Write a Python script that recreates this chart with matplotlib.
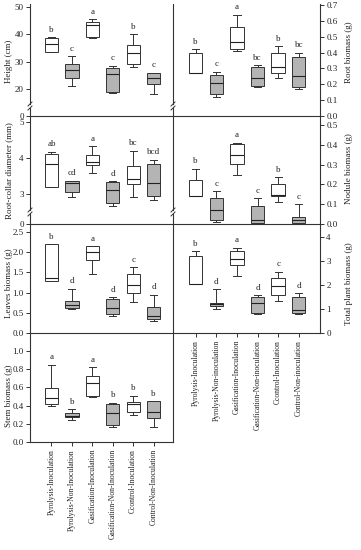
import matplotlib.pyplot as plt
from matplotlib.lines import Line2D

plt.rcParams['font.family'] = ['Liberation Serif', 'DejaVu Serif']

groups_left = ["Pyrolysis-Inoculation", "Pyrolysis-Non-Inoculation", "Gasification-Inoculation",
               "Gasification-Non-Inoculation", "Ccontrol-Inoculation", "Control-Non-Inoculation"]
groups_right = ["Pyrolysis-Inoculation", "Pyrolysis-Non-inoculation", "Gasification-Inoculation",
                "Gasification-Non-inoculation", "Ccontrol-Inoculation", "Control-Non-inoculation"]
fills = ["white", "#b4b4b4", "white", "#b4b4b4", "white", "#b4b4b4"]
pos = [1, 2, 3, 4, 5, 6]

# box stats per panel: whisker low, q1, median, q3, whisker high
height_lo = [33.5, 21.0, 38.5, 18.5, 28.0, 18.0]
height_q1 = [33.5, 24.0, 39.0, 19.0, 29.0, 22.0]
height_med = [36.5, 27.0, 43.5, 25.5, 33.0, 24.0]
height_q3 = [38.5, 29.0, 44.5, 27.5, 36.0, 26.0]
height_hi = [39.0, 32.0, 45.5, 28.5, 40.0, 26.0]
height_let = ["b", "c", "a", "c", "b", "c"]

collar_lo = [3.20, 2.92, 3.58, 2.67, 2.93, 2.82]
collar_q1 = [3.20, 3.05, 3.80, 2.75, 3.28, 2.95]
collar_med = [3.83, 3.30, 3.90, 3.10, 3.42, 3.30]
collar_q3 = [4.10, 3.35, 4.08, 3.33, 3.77, 3.83]
collar_hi = [4.18, 3.37, 4.33, 3.35, 4.20, 3.95]
collar_let = ["ab", "cd", "a", "d", "bc", "bcd"]

leaves_lo = [1.30, 0.60, 1.47, 0.43, 0.78, 0.30]
leaves_q1 = [1.30, 0.63, 1.80, 0.48, 1.00, 0.35]
leaves_med = [1.37, 0.70, 2.00, 0.62, 1.20, 0.42]
leaves_q3 = [2.20, 0.80, 2.15, 0.83, 1.45, 0.65]
leaves_hi = [2.20, 1.10, 2.15, 0.88, 1.63, 0.95]
leaves_let = ["b", "d", "a", "d", "c", "d"]

stem_lo = [0.40, 0.245, 0.50, 0.16, 0.30, 0.17]
stem_q1 = [0.42, 0.27, 0.51, 0.19, 0.33, 0.26]
stem_med = [0.48, 0.29, 0.65, 0.32, 0.42, 0.33]
stem_q3 = [0.59, 0.32, 0.72, 0.42, 0.44, 0.45]
stem_hi = [0.85, 0.36, 0.82, 0.43, 0.51, 0.45]
stem_let = ["a", "b", "a", "b", "b", "b"]

root_lo = [0.27, 0.12, 0.41, 0.18, 0.24, 0.17]
root_q1 = [0.27, 0.14, 0.42, 0.19, 0.27, 0.18]
root_med = [0.27, 0.21, 0.47, 0.24, 0.31, 0.25]
root_q3 = [0.40, 0.26, 0.56, 0.31, 0.40, 0.37]
root_hi = [0.42, 0.28, 0.64, 0.32, 0.44, 0.40]
root_let = ["b", "c", "a", "bc", "b", "bc"]

nodule_lo = [0.14, 0.01, 0.245, 0.0, 0.11, 0.0]
nodule_q1 = [0.14, 0.02, 0.305, 0.005, 0.14, 0.005]
nodule_med = [0.14, 0.07, 0.35, 0.02, 0.145, 0.02]
nodule_q3 = [0.22, 0.13, 0.405, 0.09, 0.20, 0.035]
nodule_hi = [0.28, 0.165, 0.41, 0.13, 0.235, 0.10]
nodule_let = ["b", "c", "a", "c", "b", "c"]

total_lo = [2.05, 1.00, 2.38, 0.78, 1.32, 0.78]
total_q1 = [2.05, 1.12, 2.85, 0.85, 1.60, 0.85]
total_med = [2.05, 1.20, 3.10, 1.25, 1.95, 0.97]
total_q3 = [3.20, 1.27, 3.40, 1.50, 2.28, 1.50]
total_hi = [3.40, 1.82, 3.55, 1.57, 2.55, 1.65]
total_let = ["b", "d", "a", "d", "c", "d"]

W, H = 361, 550
fig = plt.figure(figsize=(3.61, 5.5), dpi=100)
line_c = '#333333'


def px_axes(x0, y0, x1, y1):
    return fig.add_axes([x0 / W, 1 - y1 / H, (x1 - x0) / W, (y1 - y0) / H])


def style(ax, side, bottom=False, top=False, xlim=(-0.05, 6.95)):
    for s in ax.spines.values():
        s.set_linewidth(0.8)
        s.set_color(line_c)
    ax.spines['top'].set_visible(top)
    ax.spines['bottom'].set_visible(bottom)
    if side == 'right':
        ax.spines['left'].set_visible(False)
        ax.yaxis.tick_right()
    ax.tick_params(axis='y', direction='out', length=3, width=0.7, labelsize=6.5, pad=1.5, colors=line_c,
                   labelcolor='#222222')
    ax.set_xticks([])
    ax.set_xlim(*xlim)
    ax.set_facecolor('none')


def draw_boxes(ax, lo, q1, med, q3, hi, letters):
    stats = [dict(whislo=a, q1=b, med=c, q3=d, whishi=e) for a, b, c, d, e in zip(lo, q1, med, q3, hi)]
    art = ax.bxp(stats, positions=pos, widths=0.65, capwidths=0.35, showfliers=False, patch_artist=True,
                 boxprops=dict(linewidth=0.7, edgecolor=line_c),
                 medianprops=dict(color='#222222', linewidth=0.8),
                 whiskerprops=dict(color=line_c, linewidth=0.7),
                 capprops=dict(color=line_c, linewidth=0.7), manage_ticks=False)
    for patch, c in zip(art['boxes'], fills):
        patch.set_facecolor(c)
    for x, h, t in zip(pos, hi, letters):
        ax.annotate(t, (x, h), xytext=(0, 2.5), textcoords='offset points', ha='center', va='bottom',
                    fontsize=6.5, color='#222222')


def break_marks(x, y_a, y_b):
    for y in (y_a, y_b):
        fig.add_artist(Line2D([(x - 2) / W, (x + 2) / W], [1 - (y + 2) / H, 1 - (y - 2) / H],
                              color=line_c, lw=0.7))


LX0, LX1, RX0, RX1 = 30, 173, 173, 320

# Height (broken)
ax = px_axes(LX0, 4, LX1, 104)
style(ax, 'left')
draw_boxes(ax, height_lo, height_q1, height_med, height_q3, height_hi, height_let)
ax.set_ylim(14.5, 51.1)
ax.set_yticks([20, 30, 40, 50])
ax = px_axes(LX0, 108, LX1, 116)
style(ax, 'left', bottom=True)
ax.set_ylim(0, 2.9)
ax.set_yticks([0])
break_marks(LX0, 104, 108)
break_marks(LX1, 104, 108)

# Root-collar diameter (broken)
ax = px_axes(LX0, 116, LX1, 210)
style(ax, 'left')
draw_boxes(ax, collar_lo, collar_q1, collar_med, collar_q3, collar_hi, collar_let)
ax.set_ylim(2.556, 5.167)
ax.set_yticks([3, 4, 5])
ax = px_axes(LX0, 214, LX1, 224)
style(ax, 'left', bottom=True)
ax.set_ylim(0, 0.28)
ax.set_yticks([0])
break_marks(LX0, 210, 214)
break_marks(LX1, 210, 214)

# Leaves biomass
ax = px_axes(LX0, 224, LX1, 333)
style(ax, 'left', bottom=True)
draw_boxes(ax, leaves_lo, leaves_q1, leaves_med, leaves_q3, leaves_hi, leaves_let)
ax.set_ylim(0, 2.70)
ax.set_yticks([0, 0.5, 1.0, 1.5, 2.0, 2.5])
ax.set_yticklabels(['0.0', '0.5', '1.0', '1.5', '2.0', '2.5'])

# Stem biomass
ax = px_axes(LX0, 333, LX1, 442)
style(ax, 'left', bottom=True)
draw_boxes(ax, stem_lo, stem_q1, stem_med, stem_q3, stem_hi, stem_let)
ax.set_ylim(0, 1.198)
ax.set_yticks([0, 0.2, 0.4, 0.6, 0.8, 1.0])
ax.set_yticklabels(['0.0', '0.2', '0.4', '0.6', '0.8', '1.0'])
ax.set_xticks(pos)
ax.set_xticklabels(groups_left, rotation=90, fontsize=5.5, color='#222222')
ax.tick_params(axis='x', direction='out', length=3, width=0.7, pad=2, colors=line_c, labelcolor='#222222')

# Root biomass
ax = px_axes(RX0, 4, RX1, 116)
style(ax, 'right', bottom=True, xlim=(-0.1, 7.03))
draw_boxes(ax, root_lo, root_q1, root_med, root_q3, root_hi, root_let)
ax.set_ylim(0, 0.707)
ax.set_yticks([0, 0.1, 0.2, 0.3, 0.4, 0.5, 0.6, 0.7])
ax.set_yticklabels(['0.0', '0.1', '0.2', '0.3', '0.4', '0.5', '0.6', '0.7'])

# Nodule biomass
ax = px_axes(RX0, 116, RX1, 224)
style(ax, 'right', bottom=True, xlim=(-0.1, 7.03))
draw_boxes(ax, nodule_lo, nodule_q1, nodule_med, nodule_q3, nodule_hi, nodule_let)
ax.set_ylim(0, 0.545)
ax.set_yticks([0, 0.1, 0.2, 0.3, 0.4, 0.5])
ax.set_yticklabels(['0.0', '0.1', '0.2', '0.3', '0.4', '0.5'])

# Total plant biomass
ax = px_axes(RX0, 224, RX1, 333)
style(ax, 'right', bottom=True, xlim=(-0.1, 7.03))
draw_boxes(ax, total_lo, total_q1, total_med, total_q3, total_hi, total_let)
ax.set_ylim(0, 4.54)
ax.set_yticks([0, 1, 2, 3, 4])
ax.set_xticks(pos)
ax.set_xticklabels(groups_right, rotation=90, fontsize=5.5, color='#222222')
ax.tick_params(axis='x', direction='out', length=3, width=0.7, pad=2, colors=line_c, labelcolor='#222222')

# axis titles
ylabels_left = [("Height (cm)", 61), ("Root-collar diameter (mm)", 171),
                ("Leaves biomass (g)", 283), ("Stem biomass (g)", 396)]
ylabels_right = [("Root biomass (g)", 52), ("Nodule biomass (g)", 169), ("Total plant biomass (g)", 284)]
for txt, y in ylabels_left:
    fig.text(9 / W, 1 - y / H, txt, rotation=90, ha='center', va='center', fontsize=6.5, color='#222222')
for txt, y in ylabels_right:
    fig.text(349 / W, 1 - y / H, txt, rotation=90, ha='center', va='center', fontsize=6.5, color='#222222')

fig.savefig('out.png', dpi=100, facecolor='white')
